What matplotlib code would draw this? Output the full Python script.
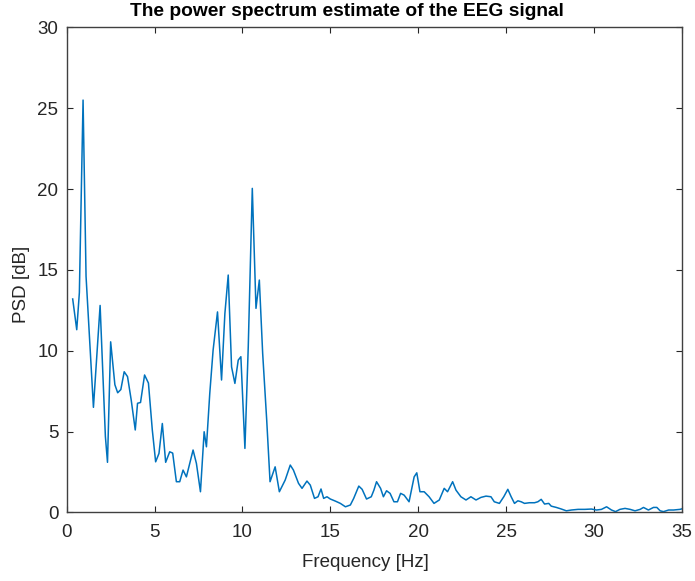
import matplotlib.pyplot as plt

plt.rcParams['font.family'] = ['Liberation Sans', 'DejaVu Sans']

# frequency [Hz] and PSD [dB]
freq = [0.34, 0.57, 0.72, 0.93, 1.10, 1.52, 1.90, 2.20, 2.32, 2.50, 2.74, 2.90,
        3.08, 3.27, 3.46, 3.67, 3.90, 4.03, 4.20, 4.43, 4.65, 4.87, 5.06, 5.25,
        5.44, 5.63, 5.86, 6.03, 6.24, 6.43, 6.62, 6.81, 7.19, 7.38, 7.61, 7.82,
        7.95, 8.14, 8.33, 8.58, 8.81, 9.00, 9.19, 9.38, 9.57, 9.76, 9.91, 10.14,
        10.33, 10.56, 10.77, 10.96, 11.15, 11.38, 11.57, 11.86, 12.10, 12.43,
        12.72, 12.90, 13.19, 13.39, 13.67, 13.86, 14.10, 14.30, 14.47, 14.62,
        14.81, 15.00, 15.29, 15.57, 15.86, 16.14, 16.33, 16.62, 16.81, 17.06,
        17.33, 17.48, 17.63, 17.86, 18.02, 18.20, 18.40, 18.62, 18.82, 19.00,
        19.20, 19.48, 19.77, 19.92, 20.10, 20.34, 20.62, 20.90, 21.20, 21.48,
        21.67, 21.96, 22.15, 22.43, 22.72, 23.00, 23.29, 23.57, 23.86, 24.14,
        24.33, 24.62, 24.87, 25.10, 25.29, 25.48, 25.67, 25.86, 26.05, 26.33,
        26.62, 26.81, 27.00, 27.19, 27.43, 27.57, 27.86, 28.15, 28.43, 28.72,
        29.10, 29.48, 29.86, 30.15, 30.43, 30.72, 31.00, 31.23, 31.48, 31.77,
        32.06, 32.34, 32.63, 32.82, 33.10, 33.39, 33.58, 33.77, 33.96, 34.25,
        34.53, 34.90, 35.10]
psd = [13.2, 11.3, 13.6, 25.5, 14.6, 6.5, 12.8, 4.7, 3.1, 10.55, 7.9, 7.4,
       7.6, 8.7, 8.4, 6.95, 5.1, 6.75, 6.8, 8.5, 8.0, 5.1, 3.13, 3.65,
       5.5, 3.1, 3.75, 3.67, 1.9, 1.9, 2.62, 2.2, 3.86, 3.03, 1.28, 4.99,
       4.06, 7.36, 10.04, 12.4, 8.19, 12.3, 14.68, 9.0, 7.98, 9.42, 9.63, 3.96,
       10.25, 20.04, 12.62, 14.37, 9.84, 5.71, 1.9, 2.82, 1.28, 2.0,
       2.93, 2.62, 1.8, 1.49, 1.94, 1.69, 0.87, 0.97, 1.45, 0.87,
       0.97, 0.83, 0.7, 0.56, 0.35, 0.46, 0.87, 1.63, 1.43, 0.83,
       0.97, 1.38, 1.9, 1.49, 0.97, 1.34, 1.18, 0.66, 0.66, 1.18,
       1.07, 0.66, 2.2, 2.45, 1.28, 1.28, 0.97, 0.56, 0.77, 1.49,
       1.28, 1.9, 1.38, 0.97, 0.77, 0.97, 0.77, 0.93, 1.01, 0.97,
       0.66, 0.56, 0.97, 1.43, 0.97, 0.56, 0.72, 0.66, 0.56, 0.6,
       0.6, 0.66, 0.81, 0.52, 0.56, 0.39, 0.31, 0.21, 0.1, 0.15,
       0.19, 0.19, 0.21, 0.15, 0.19, 0.35, 0.15, 0.05, 0.19, 0.25,
       0.19, 0.1, 0.19, 0.31, 0.15, 0.31, 0.31, 0.1, 0.05, 0.15,
       0.15, 0.19, 0.25]

fig = plt.figure(figsize=(6.95, 5.81), dpi=100)
ax = fig.add_axes([0.096, 0.118, 0.885, 0.835])

ax.plot(freq, psd, color='#0072BD', linewidth=1.1)

ax.set_xlim(0, 35)
ax.set_ylim(0, 30)
ax.set_xticks(range(0, 36, 5))
ax.set_yticks(range(0, 31, 5))

ax.tick_params(direction='in', length=4, width=0.8, colors='#262626',
               labelsize=13.5, top=True, right=True)
ax.tick_params(axis='x', pad=8)
ax.tick_params(axis='y', pad=6)
for sp in ax.spines.values():
    sp.set_color('#404040')
    sp.set_linewidth(1.0)

ax.set_xlabel('Frequency [Hz]', fontsize=13.5, color='#262626')
ax.xaxis.set_label_coords(0.486, -0.085)
ax.set_ylabel('PSD [dB]', fontsize=13.5, color='#262626')
ax.yaxis.set_label_coords(-0.060, 0.47)
ax.set_title('The power spectrum estimate of the EEG signal',
             fontsize=13.8, fontweight='bold', color='black', x=0.456, y=1.006)

fig.savefig('out.png', dpi=100, facecolor='white')
